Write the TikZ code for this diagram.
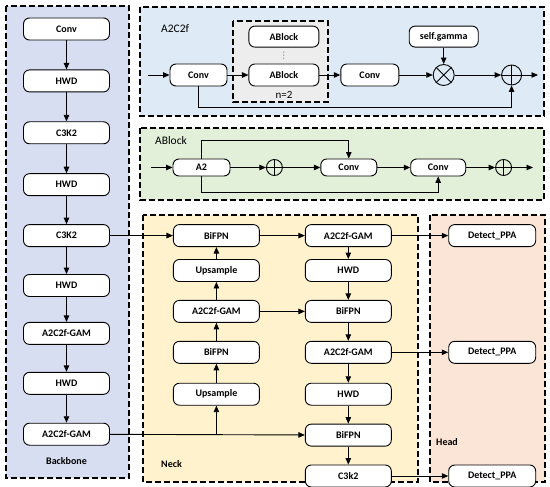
\documentclass[tikz,border=0pt]{standalone}
\usepackage{fontspec}
\setmainfont{Carlito}
\newfontfamily\symfont{DejaVu Sans}
\usetikzlibrary{positioning, arrows.meta, calc}
\definecolor{bbfill}{HTML}{D8DEF2}
\definecolor{acfill}{HTML}{DEEBF7}
\definecolor{abfill}{HTML}{E2F0D9}
\definecolor{nkfill}{HTML}{FFF2CC}
\definecolor{hdfill}{HTML}{FBE5D6}
\definecolor{rpfill}{HTML}{EDEDED}
\tikzset{%
  block/.style={draw, rounded corners=6pt, fill=white, line width=0.9pt,
    minimum width=86pt, minimum height=22pt, inner sep=0pt,
    font=\bfseries\fontsize{10}{11}\selectfont},
  panel/.style={draw, line width=1.1pt, dash pattern=on 6pt off 3pt},
  link/.style={line width=0.9pt},
  move/.style={link, -{Triangle[length=6.5pt,width=5.5pt]}},
  opcircle/.style={draw, circle, line width=0.9pt, inner sep=0pt},
  paneltitle/.style={anchor=west, inner sep=0pt, font=\fontsize{11.5}{13}\selectfont},
  partname/.style={inner sep=0pt, font=\bfseries\fontsize{10}{11}\selectfont}
}
\begin{document}
\begin{tikzpicture}[x=1pt, y=-1pt]
  \useasboundingbox (0,0) rectangle (550,487);

  % panels
  \draw[panel, fill=bbfill] (6,6) rectangle (129,478);
  \draw[panel, fill=acfill] (140,7) rectangle (544,116);
  \draw[panel, fill=rpfill] (233,21) rectangle (328,102);
  \draw[panel, fill=abfill] (140,128) rectangle (544,200);
  \draw[panel, fill=nkfill] (143,215) rectangle (418,482);
  \draw[panel, fill=hdfill] (430,215) rectangle (545,482);

  % backbone
  \node[block] (b1) at (66.5,29) {Conv};
  \node[block, below=29pt of b1] (b2) {HWD};
  \node[block, below=29pt of b2] (b3) {C3K2};
  \node[block, below=29pt of b3] (b4) {HWD};
  \node[block, below=28pt of b4] (b5) {C3K2};
  \node[block, below=27pt of b5] (b6) {HWD};
  \node[block, below=25pt of b6] (b7) {A2C2f-GAM};
  \node[block, below=27pt of b7] (b8) {HWD};
  \node[block, below=28pt of b8] (b9) {A2C2f-GAM};
  \node[partname] (bbname) at (66.5,461) {Backbone};

  \draw[move] (b1) -- (b2);
  \draw[move] (b2) -- (b3);
  \draw[move] (b3) -- (b4);
  \draw[move] (b4) -- (b5);
  \draw[move] (b5) -- (b6);
  \draw[move] (b6) -- (b7);
  \draw[move] (b7) -- (b8);
  \draw[move] (b8) -- (b9);

  % A2C2f
  \node[paneltitle] (actitle) at (161,29) {A2C2f};
  \coordinate (acin) at (148,75);
  \node[block, minimum width=57pt] (ac1) at (198.5,75) {Conv};
  \node[block, minimum width=70pt, right=21pt of ac1] (rep2) {ABlock};
  \node[block, minimum width=70pt, minimum height=21pt, above=16pt of rep2] (rep1) {ABlock};
  \node[inner sep=0pt, text=black!55, font=\symfont\fontsize{9}{10}\selectfont] (repdots) at ($(rep1.south)!0.5!(rep2.north)$) {⋮};
  \node[inner sep=0pt, font=\fontsize{11}{12}\selectfont] (repn) at (284,95) {n=2};
  \node[block, minimum width=58pt, right=21pt of rep2] (ac2) {Conv};
  \node[opcircle, minimum size=21pt, right=33.5pt of ac2] (mul) {};
  \node[block, minimum width=69pt, minimum height=21pt, above=16.5pt of mul] (gamma) {self.gamma};
  \node[opcircle, minimum size=20pt, right=46.5pt of mul] (acsum) {};
  \coordinate (acout) at (538,75);
  \draw[link] (mul.north east) -- (mul.south west) (mul.north west) -- (mul.south east);
  \draw[link] (acsum.north) -- (acsum.south) (acsum.west) -- (acsum.east);

  \draw[move] (acin) -- (ac1);
  \draw[move] (ac1) -- (rep2);
  \draw[move] (rep2) -- (ac2);
  \draw[move] (ac2) -- (mul);
  \draw[move] (gamma) -- (mul);
  \draw[move] (mul) -- (acsum);
  \draw[move] (acsum) -- (acout);
  \draw[move] (ac1.south) -- ++(0,21) -| (acsum.south);

  % ABlock
  \node[paneltitle] (abtitle) at (155,141) {ABlock};
  \coordinate (abin) at (151,167.5);
  \node[block, minimum width=57pt, minimum height=17pt] (att) at (201.5,167.5) {A2};
  \node[opcircle, minimum size=16pt, right=35.5pt of att] (absum1) {};
  \node[block, minimum width=56pt, minimum height=17pt, right=37.5pt of absum1] (ab1) {Conv};
  \node[block, minimum width=55pt, minimum height=17pt, right=33pt of ab1] (ab2) {Conv};
  \node[opcircle, minimum size=16pt, right=29pt of ab2] (absum2) {};
  \coordinate (about) at (533,167.5);
  \draw[link] (absum1.north) -- (absum1.south) (absum1.west) -- (absum1.east);
  \draw[link] (absum2.north) -- (absum2.south) (absum2.west) -- (absum2.east);

  \draw[move] (abin) -- (att);
  \draw[move] (att) -- (absum1);
  \draw[move] (absum1) -- (ab1);
  \draw[move] (ab1) -- (ab2);
  \draw[move] (ab2) -- (absum2);
  \draw[move] (absum2) -- (about);
  \draw[move] (att.north) -- ++(0,-18) -| (ab1.north);
  \draw[move] (att.south) -- ++(0,16) -| (ab2.south);

  % neck
  \node[block, right=63pt of b5] (nl1) {BiFPN};
  \node[block, below=12pt of nl1] (nl2) {Upsample};
  \node[block, below=18pt of nl2] (nl3) {A2C2f-GAM};
  \node[block, below=18pt of nl3] (nl4) {BiFPN};
  \node[block, below=19pt of nl4] (nl5) {Upsample};

  \node[block, right=45pt of nl1] (nr1) {A2C2f-GAM};
  \node[block, below=12pt of nr1] (nr2) {HWD};
  \node[block, below=18pt of nr2] (nr3) {BiFPN};
  \node[block, below=18pt of nr3] (nr4) {A2C2f-GAM};
  \node[block, below=19pt of nr4] (nr5) {HWD};
  \node[block, below=18pt of nr5] (nr6) {BiFPN};
  \node[block, below=18pt of nr6] (nr7) {C3k2};
  \node[partname, anchor=west] (nkname) at (161,464) {Neck};

  \draw[move] (b5) -- (nl1);
  \draw[move] (b9) -- (nr6);
  \draw[move] (b9 -| nl5) -- (nl5);
  \draw[move] (nl5) -- (nl4);
  \draw[move] (nl4) -- (nl3);
  \draw[move] (nl3) -- (nl2);
  \draw[move] (nl2) -- (nl1);
  \draw[move] (nl1) -- (nr1);
  \draw[move] (nl3) -- (nr3);
  \draw[move] (nr1) -- (nr2);
  \draw[move] (nr2) -- (nr3);
  \draw[move] (nr3) -- (nr4);
  \draw[move] (nr4) -- (nr5);
  \draw[move] (nr5) -- (nr6);
  \draw[move] (nr6) -- (nr7);

  % head
  \node[block, minimum width=87pt, right=56.5pt of nr1] (h1) {Detect\_PPA};
  \node[block, minimum width=87pt, right=56.5pt of nr4] (h2) {Detect\_PPA};
  \node[block, minimum width=87pt, right=56.5pt of nr7] (h3) {Detect\_PPA};
  \node[partname, anchor=west] (hdname) at (436,442) {Head};

  \draw[move] (nr1) -- (h1);
  \draw[move] (nr4) -- (h2);
  \draw[move] (nr7) -- (h3);
\end{tikzpicture}
\end{document}
